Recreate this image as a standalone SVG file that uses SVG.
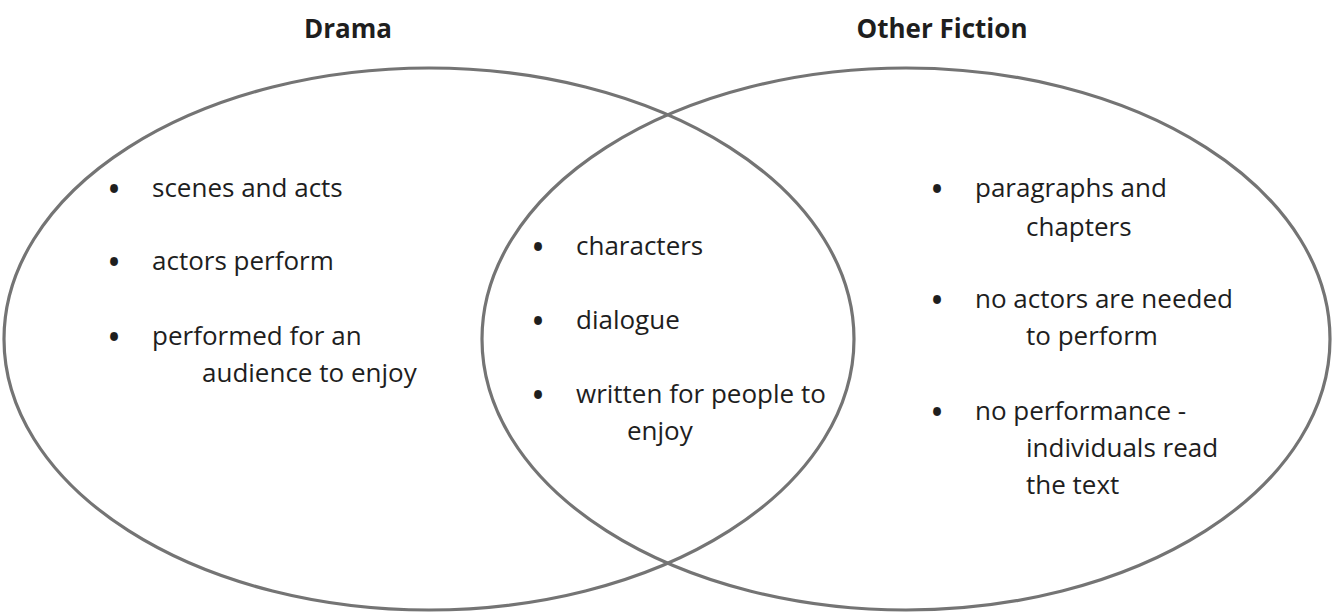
<svg xmlns="http://www.w3.org/2000/svg" width="1332" height="612" viewBox="0 0 1332 612">
<style>
.ring{fill:none;stroke:#747474;stroke-width:3.2}
.title{font-family:"Open Sans","Liberation Sans",sans-serif;font-weight:bold;font-size:26px;fill:#1e1e1e;text-anchor:middle}
.t{font-family:"Open Sans","Liberation Sans",sans-serif;font-weight:500;font-size:26px;fill:#1e1e1e}
.b{font-family:"Open Sans","Liberation Sans",sans-serif;font-weight:bold;font-size:28px;fill:#1e1e1e;text-anchor:middle}
</style>
<rect width="1332" height="612" fill="#ffffff"/>
<g id="drama">
<ellipse class="ring" cx="429" cy="339" rx="425" ry="271"/>
<text class="title" x="348" y="38">Drama</text>
</g>
<g id="other-fiction">
<ellipse class="ring" cx="906" cy="339" rx="424" ry="271"/>
<text class="title" x="942" y="38">Other Fiction</text>
</g>
<g id="drama-items">
<text class="b" x="114" y="199">•</text><text class="t" x="152" y="197">scenes and acts</text>
<text class="b" x="114" y="272">•</text><text class="t" x="152" y="270">actors perform</text>
<text class="b" x="114" y="347">•</text><text class="t" x="152" y="345">performed for an</text>
<text class="t" x="202" y="382">audience to enjoy</text>
</g>
<g id="shared-items">
<text class="b" x="538" y="257">•</text><text class="t" x="576" y="255">characters</text>
<text class="b" x="538" y="331">•</text><text class="t" x="576" y="329">dialogue</text>
<text class="b" x="538" y="405">•</text><text class="t" x="576" y="403">written for people to</text>
<text class="t" x="627" y="440">enjoy</text>
</g>
<g id="fiction-items">
<text class="b" x="937" y="199">•</text><text class="t" x="975" y="197">paragraphs and</text>
<text class="t" x="1026" y="236">chapters</text>
<text class="b" x="937" y="310">•</text><text class="t" x="975" y="308">no actors are needed</text>
<text class="t" x="1026" y="345">to perform</text>
<text class="b" x="937" y="422">•</text><text class="t" x="975" y="420">no performance -</text>
<text class="t" x="1026" y="457">individuals read</text>
<text class="t" x="1026" y="494">the text</text>
</g>
</svg>
